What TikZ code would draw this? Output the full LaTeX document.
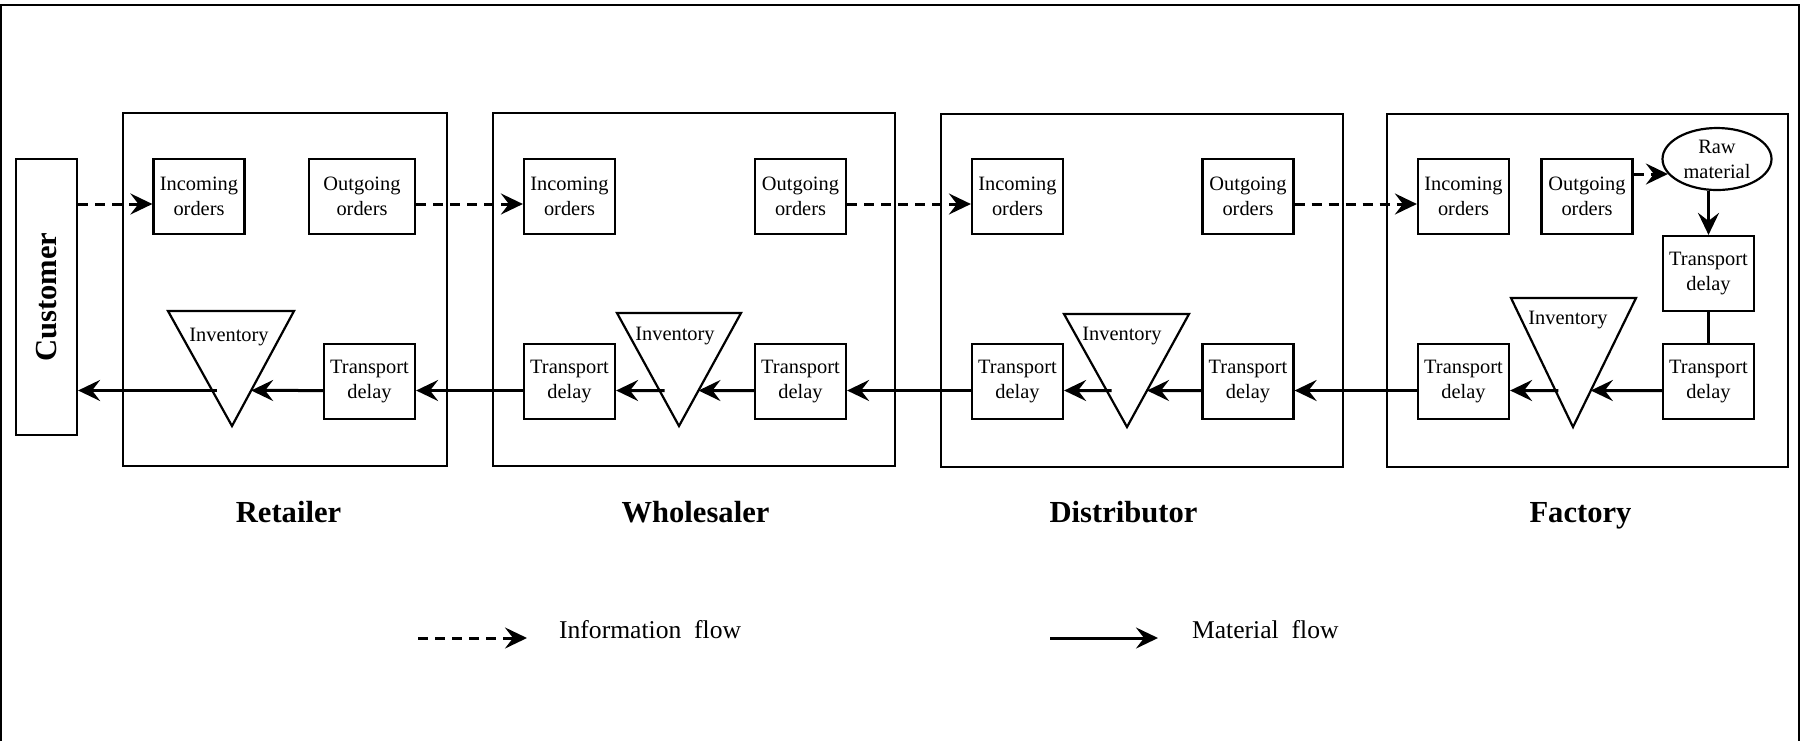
\documentclass[tikz,border=0pt]{standalone}
\usepackage{graphicx}
\usepackage{fontspec}
\setmainfont{Liberation Serif}
\usepackage{tikz}
\usetikzlibrary{positioning}
\usetikzlibrary{arrows.meta}
\usetikzlibrary{calc}
\usetikzlibrary{shapes.geometric}

\begin{document}
\begin{tikzpicture}[x=0.5pt, y=-0.5pt, line width=1.1pt]
        \tikzstyle{blk}=[draw, minimum width=45.5pt, minimum height=37.5pt,
            inner sep=1pt, align=center, font=\fontsize{10.2}{12.5}\selectfont]
        \tikzstyle{stage}=[draw, minimum height=176.5pt, inner sep=0pt]
        \tikzstyle{lbl}=[anchor=base, font=\fontsize{15.3}{18}\selectfont\bfseries]
        \tikzstyle{txt}=[inner sep=0pt, font=\fontsize{10.2}{12.5}\selectfont]
        \tikzstyle{leg}=[inner sep=0pt, yshift=4pt, font=\fontsize{12.8}{15}\selectfont]
        \tikzstyle{mat}=[line width=1.5pt, -{Stealth[length=11pt, width=10.5pt, inset=4pt]}]
        \tikzstyle{info}=[mat, dash pattern=on 5pt off 3.5pt]

        \useasboundingbox (0,0) rectangle (1805,741);
        \draw (1,741) -- (1,5) -- (1799,5) -- (1799,741);

            % customer and the four stages
            \node[draw, minimum width=30.5pt, minimum height=138pt, inner sep=0pt]
                (cust) at (46.5,297)
                {\rotatebox{90}{\fontsize{15.3}{18}\selectfont\bfseries Customer}};
            \node[stage, minimum width=162pt] (ret) at (285,289.5) {};
            \node[stage, minimum width=201pt] (whs) at (694,289.5) {};
            \node[stage, minimum width=201pt] (dst) at (1142,290.5) {};
            \node[stage, minimum width=200.5pt] (fac) at (1587.5,290.5) {};
            \node[lbl] (ret-l) at (288.5,522) {Retailer};
            \node[lbl] (whs-l) at (695.5,522) {Wholesaler};
            \node[lbl] (dst-l) at (1123.5,522) {Distributor};
            \node[lbl] (fac-l) at (1580.5,522) {Factory};

            % retailer
            \node[blk] (r-inc) at (199,196.5) {Incoming\\orders};
            \node[blk, minimum width=53pt] (r-out) at (362,196.5) {Outgoing\\orders};
            \node[blk] (r-td) at (369.5,381.5) {Transport\\delay};
            \coordinate (r-tl) at (168,311);
            \coordinate (r-tr) at (294,311);
            \coordinate (r-b) at (232,426);
            \draw (r-tl) -- (r-tr) -- (r-b) -- cycle;
            \node[txt] (r-inv) at (229,337) {Inventory};
            \coordinate (r-ia) at ($(r-tr)!0.691!(r-b)$);
            \coordinate (r-ob) at ($(r-tl)!0.691!(r-b)+(5,0)$);

            % wholesaler
            \node[blk] (w-inc) at (569.5,196.5) {Incoming\\orders};
            \node[blk] (w-out) at (800.5,196.5) {Outgoing\\orders};
            \node[blk] (w-tdl) at (569.5,381.5) {Transport\\delay};
            \node[blk] (w-tdr) at (800.5,381.5) {Transport\\delay};
            \coordinate (w-tl) at (617,313);
            \coordinate (w-tr) at (741,313);
            \coordinate (w-b) at (679,426);
            \draw (w-tl) -- (w-tr) -- (w-b) -- cycle;
            \node[txt] (w-inv) at (675,336) {Inventory};
            \coordinate (w-ia) at ($(w-tr)!0.686!(w-b)$);
            \coordinate (w-ob) at ($(w-tl)!0.686!(w-b)+(5,0)$);

            % distributor
            \node[blk] (d-inc) at (1017.5,196.5) {Incoming\\orders};
            \node[blk] (d-out) at (1248,196.5) {Outgoing\\orders};
            \node[blk] (d-tdl) at (1017.5,381.5) {Transport\\delay};
            \node[blk] (d-tdr) at (1248,381.5) {Transport\\delay};
            \coordinate (d-tl) at (1064,314);
            \coordinate (d-tr) at (1189,314);
            \coordinate (d-b) at (1127,427);
            \draw (d-tl) -- (d-tr) -- (d-b) -- cycle;
            \node[txt] (d-inv) at (1122,336) {Inventory};
            \coordinate (d-ia) at ($(d-tr)!0.677!(d-b)$);
            \coordinate (d-ob) at ($(d-tl)!0.677!(d-b)+(5,0)$);

            % factory
            \node[blk] (f-inc) at (1463.5,196.5) {Incoming\\orders};
            \node[blk] (f-out) at (1587,196.5) {Outgoing\\orders};
            \node[draw, ellipse, minimum width=54.5pt, minimum height=31pt, inner sep=0pt,
                align=center, font=\fontsize{10.2}{12.5}\selectfont]
                (raw) at (1717,159) {Raw\\material};
            \node[blk] (f-tdu) at (1708.5,273.5) {Transport\\delay};
            \node[blk] (f-tdd) at (1708.5,381.5) {Transport\\delay};
            \node[blk] (f-tdl) at (1463.5,381.5) {Transport\\delay};
            \coordinate (f-tl) at (1511,298);
            \coordinate (f-tr) at (1636,298);
            \coordinate (f-b) at (1573,427);
            \draw (f-tl) -- (f-tr) -- (f-b) -- cycle;
            \node[txt] (f-inv) at (1568,320) {Inventory};
            \coordinate (f-ia) at ($(f-tr)!0.717!(f-b)$);
            \coordinate (f-ob) at ($(f-tl)!0.717!(f-b)+(3,0)$);

            % information flow
            \draw[info] ($(cust.east |- r-inc.west)+(0,7.5)$) -- ($(r-inc.west)+(0,7.5)$);
            \draw[info] ($(r-out.east)+(0,7.5)$) -- ($(w-inc.west)+(0,7.5)$);
            \draw[info] ($(w-out.east)+(0,7.5)$) -- ($(d-inc.west)+(0,7.5)$);
            \draw[info] ($(d-out.east)+(0,7.5)$) -- ($(f-inc.west)+(0,7.5)$);
            \draw[info] (raw.197 -| f-out.east) -- (raw.197);

            % material flow
            \draw[mat] (raw.south -| f-tdu.north) -- (f-tdu.north);
            \draw[mat, -] (f-tdu.south) -- (f-tdd.north);
            \draw[mat] ($(f-tdd.west)+(0,9)$) -- (f-ia);
            \draw[mat] (f-ob) -- ($(f-tdl.east)+(0,9)$);
            \draw[mat] ($(f-tdl.west)+(0,9)$) -- ($(d-tdr.east)+(0,9)$);
            \draw[mat] ($(d-tdr.west)+(0,9)$) -- (d-ia);
            \draw[mat] (d-ob) -- ($(d-tdl.east)+(0,9)$);
            \draw[mat] ($(d-tdl.west)+(0,9)$) -- ($(w-tdr.east)+(0,9)$);
            \draw[mat] ($(w-tdr.west)+(0,9)$) -- (w-ia);
            \draw[mat] (w-ob) -- ($(w-tdl.east)+(0,9)$);
            \draw[mat] ($(w-tdl.west)+(0,9)$) -- ($(r-td.east)+(0,9)$);
            \draw[mat] ($(r-td.west)+(0,9)$) -- (r-ia);
            \draw[mat] (r-ob) -- (r-ob -| cust.east);

            % legend
            \coordinate (li-a) at (418,638);
            \coordinate (li-b) at (527,638);
            \draw[info] (li-a) -- (li-b);
            \node[leg, right=15.5pt of li-b] (li-t) {Information~~flow};
            \coordinate (lm-a) at (1050,638);
            \coordinate (lm-b) at (1158,638);
            \draw[mat] (lm-a) -- (lm-b);
            \node[leg, right=16.5pt of lm-b] (lm-t) {Material~~flow};
        \end{tikzpicture}
\end{document}
